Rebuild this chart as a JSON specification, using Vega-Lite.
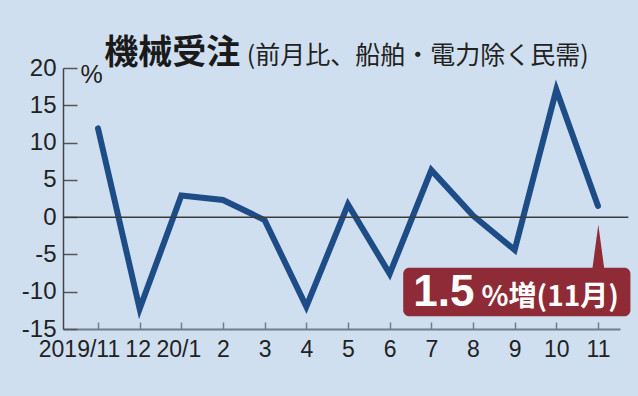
{
  "$schema": "https://vega.github.io/schema/vega-lite/v6.json",
  "width": 557,
  "height": 261,
  "autosize": {"type": "none"},
  "padding": {"left": 63, "top": 68, "right": 18, "bottom": 67},
  "background": "#cfdff0",
  "config": {
    "view": {"stroke": null},
    "font": "Liberation Sans, sans-serif"
  },
  "data": {
    "values": [
      {"i": 0, "month": "2019/11", "value": 11.9},
      {"i": 1, "month": "12", "value": -12.3},
      {"i": 2, "month": "20/1", "value": 2.9},
      {"i": 3, "month": "2", "value": 2.3},
      {"i": 4, "month": "3", "value": -0.4},
      {"i": 5, "month": "4", "value": -12.0},
      {"i": 6, "month": "5", "value": 1.7},
      {"i": 7, "month": "6", "value": -7.6},
      {"i": 8, "month": "7", "value": 6.3},
      {"i": 9, "month": "8", "value": 0.2},
      {"i": 10, "month": "9", "value": -4.4},
      {"i": 11, "month": "10", "value": 17.1},
      {"i": 12, "month": "11", "value": 1.5}
    ]
  },
  "layer": [
    {
      "mark": {"type": "line", "color": "#1d4c86", "strokeWidth": 6, "strokeCap": "round", "strokeJoin": "miter"},
      "encoding": {
        "x": {
          "field": "month",
          "type": "ordinal",
          "sort": null,
          "scale": {"type": "point", "padding": 0.684, "align": 0.614},
          "axis": {
            "title": null,
            "labelAngle": 0,
            "labelOverlap": false,
            "labelFont": "Liberation Sans, sans-serif",
            "labelFontSize": 23,
            "labelColor": "#222222",
            "labelPadding": 16,
            "labelOffset": {"condition": [{"test": "datum.value === '2019/11'", "value": -19}, {"test": "datum.value === '20/1'", "value": -3}, {"test": "datum.value === '12'", "value": -2}], "value": 0},
            "domainColor": "#6f7f90",
            "domainWidth": 2,
            "tickColor": "#6f7f90",
            "tickWidth": 1.5,
            "tickSize": -7
          }
        },
        "y": {
          "field": "value",
          "type": "quantitative",
          "scale": {"domain": [-15, 20], "nice": false, "zero": false},
          "axis": {
            "title": "%",
            "titleAngle": 0,
            "titleAlign": "left",
            "titleBaseline": "middle",
            "titleX": 17,
            "titleY": 6,
            "titleFont": "Liberation Sans, sans-serif",
            "titleFontSize": 25,
            "titleFontWeight": "normal",
            "titleColor": "#222222",
            "values": [-15, -10, -5, 0, 5, 10, 15, 20],
            "tickCount": 20,
            "labelExpr": "replace(datum.label, '\u2212', '-')",
            "labelOverlap": false,
            "grid": false,
            "labelFont": "Liberation Sans, sans-serif",
            "labelFontSize": 24,
            "labelColor": "#222222",
            "labelPadding": 21,
            "domainColor": "#444444",
            "domainWidth": 1.5,
            "tickColor": "#555555",
            "tickWidth": 1.5,
            "tickSize": -14
          }
        }
      }
    },
    {
      "transform": [{"filter": "datum.i === 12"}],
      "encoding": {
        "x": {"datum": 12, "type": "quantitative", "scale": {"domain": [-0.84, 12.52], "nice": false, "zero": false}, "axis": null}
      },
      "layer": [
        {
          "mark": {"type": "rule", "color": "#3c3c3c", "strokeWidth": 1.5},
          "encoding": {"x": {"datum": -0.84, "type": "quantitative"}, "x2": {"datum": 12.72}, "y": {"datum": 0, "type": "quantitative"}}
        },
        {
          "mark": {"type": "point", "shape": "M -0.27 1 L 0 -1 L 0.27 1 Z", "filled": true, "color": "#8e2b36", "opacity": 1, "size": 2116},
          "encoding": {"y": {"datum": -4.1, "type": "quantitative"}}
        },
        {
          "mark": {"type": "rect", "color": "#8e2b36", "cornerRadius": 6},
          "encoding": {
            "x": {"datum": 7.32, "type": "quantitative"},
            "x2": {"datum": 12.77},
            "y": {"datum": -6.8, "type": "quantitative"},
            "y2": {"datum": -13.3}
          }
        },
        {
          "mark": {"type": "text", "color": "#ffffff", "font": "Liberation Sans", "fontWeight": "bold", "fontSize": 44, "align": "left", "baseline": "alphabetic"},
          "encoding": {
            "x": {"datum": 7.56, "type": "quantitative"},
            "y": {"datum": -11.9, "type": "quantitative"},
            "text": {"field": "value", "type": "quantitative", "format": ".1f"}
          }
        },
        {
          "mark": {"type": "text", "color": "#ffffff", "font": "Noto Sans CJK JP", "fontWeight": "bold", "fontSize": 28, "align": "left", "baseline": "alphabetic", "text": "%増(11月)"},
          "encoding": {
            "x": {"datum": 9.2, "type": "quantitative"},
            "y": {"datum": -11.9, "type": "quantitative"}
          }
        },
        {
          "mark": {"type": "text", "color": "#1a1a1a", "font": "Noto Sans CJK JP", "fontWeight": "bold", "fontSize": 34, "align": "left", "baseline": "alphabetic", "text": "機械受注"},
          "encoding": {
            "x": {"datum": 0.15, "type": "quantitative"},
            "y": {"datum": 20.6, "type": "quantitative"}
          }
        },
        {
          "mark": {"type": "text", "color": "#222222", "font": "Noto Sans CJK JP", "fontWeight": "normal", "fontSize": 25, "align": "left", "baseline": "alphabetic", "text": "(前月比、船舶・電力除く民需)"},
          "encoding": {
            "x": {"datum": 3.57, "type": "quantitative"},
            "y": {"datum": 20.6, "type": "quantitative"}
          }
        }
      ]
    }
  ],
  "resolve": {"scale": {"x": "independent"}, "axis": {"x": "independent"}}
}
